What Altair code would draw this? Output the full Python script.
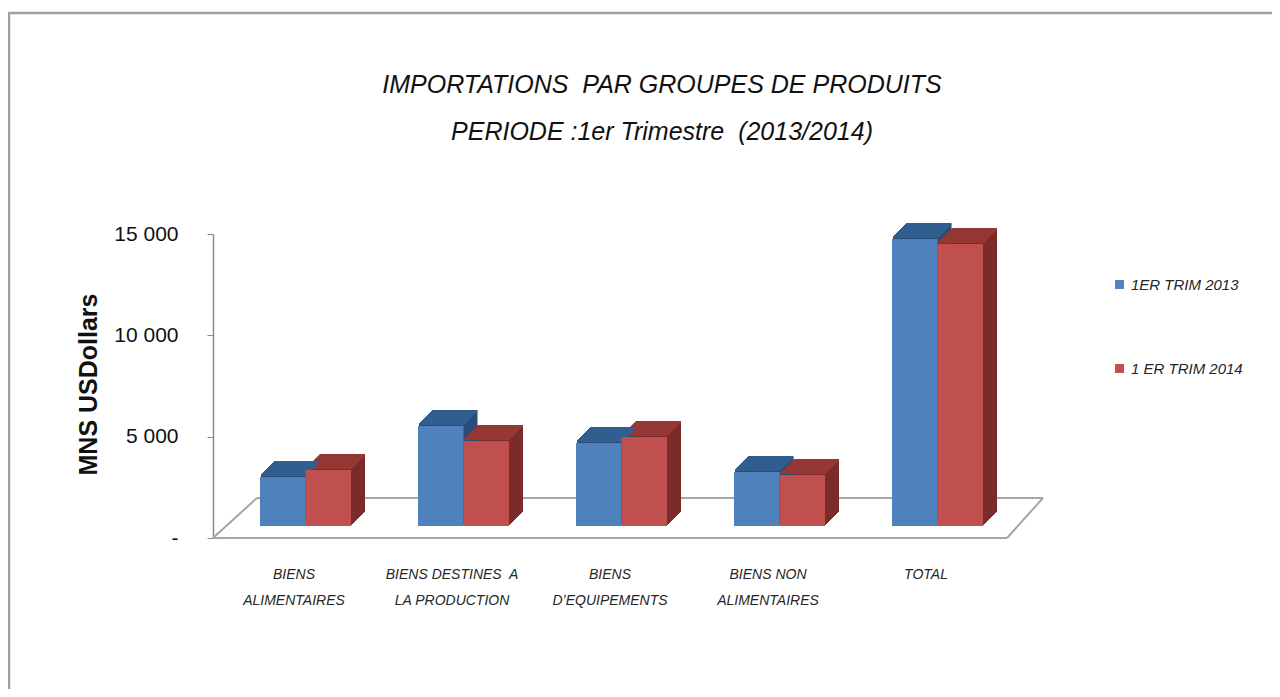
import json
import altair as alt
import pandas as pd

# ---------------- data ----------------
categories = ["BIENS ALIMENTAIRES", "BIENS DESTINES A LA PRODUCTION",
              "BIENS D’EQUIPEMENTS", "BIENS NON ALIMENTAIRES", "TOTAL"]
label_lines = [["BIENS", "ALIMENTAIRES"], ["BIENS DESTINES\u00a0 A", "LA PRODUCTION"],
               ["BIENS", "D’EQUIPEMENTS"], ["BIENS NON", "ALIMENTAIRES"], ["TOTAL"]]
series = ["1ER TRIM 2013", "1 ER TRIM 2014"]
values_2013 = [2420, 4930, 4100, 2660, 14160]
values_2014 = [2760, 4190, 4390, 2520, 13910]
y_ticks = [0, 5000, 10000, 15000]
title_lines = ["IMPORTATIONS\u00a0 PAR GROUPES DE PRODUITS", "PERIODE :1er Trimestre\u00a0 (2013/2014)"]

# ---------------- styling ----------------
FONT_N = "'Liberation Sans Narrow', 'Liberation Sans', Arial, sans-serif"
FONT_B = "'Liberation Sans', Arial, sans-serif"
front_c = ["#4F81BD", "#C0504D"]
top_c = ["#2F5E8F", "#953735"]
side_c = ["#294D78", "#7B2C2A"]
BAR_W = 0.288
DEPTH = 14
BASE = 12

rows = []
for i, c in enumerate(categories):
    for s, vals in zip(series, [values_2013, values_2014]):
        rows.append({"cat": c, "idx": i, "series": s, "value": vals[i]})
df = pd.DataFrame(rows)
df["x0"] = df["idx"] + df["series"].map({series[0]: -BAR_W, series[1]: 0.0})
df["x1"] = df["x0"] + BAR_W

DOM = [-0.5095, 4.5158]
W, H = 794, 304

xaxis = alt.Axis(values=[0, 1, 2, 3, 4], labelExpr=f"{json.dumps(label_lines, ensure_ascii=False)}[datum.value]",
                 domain=False, ticks=False, grid=False, labelPadding=29, labelFont=FONT_N,
                 labelFontSize=14, labelFontStyle="italic", labelColor="#262626",
                 labelLineHeight=26, labelAngle=0, title=None, labelFlush=False, labelOverlap=False)
yaxis = alt.Axis(values=y_ticks,
                 labelExpr="datum.value == 0 ? '-\u00a0\u00a0\u00a0\u00a0' : replace(format(datum.value, ','), ',', '\u00a0')",
                 grid=False, domainColor="#8C8C8C", domainWidth=1.5, tickColor="#8C8C8C", tickSize=6,
                 labelFont=FONT_N, labelFontSize=21, labelColor="#111111", labelPadding=29,
                 title="MNS USDollars", titleFont=FONT_B, titleFontSize=25, titleFontWeight="bold",
                 titleColor="#111111", titleAngle=270, titleX=-125, titleY=150,
                 titleAlign="center", titleBaseline="middle")

xs = alt.Scale(domain=DOM, nice=False, zero=False)
ys = alt.Scale(domain=[0, 15000], nice=False, zero=True)


def X(field):
    return alt.X(field, type="quantitative", scale=xs, axis=xaxis)


def Y(field):
    return alt.Y(field, type="quantitative", scale=ys, axis=yaxis)


def cond(colors):
    return alt.condition(alt.datum.series == series[0], alt.value(colors[0]), alt.value(colors[1]))


layers = []

# floor
floor = pd.DataFrame({"xa": [DOM[0]], "xb": [DOM[1]], "yz": [0]})
fb = alt.Chart(floor)
fl_style = dict(color="#A6A6A6", strokeWidth=2)
layers.append(fb.mark_rule(**fl_style).encode(x=X("xa"), x2="xb", y=Y("yz"), y2="yz"))
layers.append(fb.mark_rule(xOffset=44, x2Offset=36, yOffset=-40, y2Offset=-40, **fl_style)
              .encode(x=X("xa"), x2="xb", y=Y("yz"), y2="yz"))
layers.append(fb.mark_rule(x2Offset=44, y2Offset=-40, **fl_style)
              .encode(x=X("xa"), x2="xa", y=Y("yz"), y2="yz"))
layers.append(fb.mark_rule(x2Offset=36, y2Offset=-40, **fl_style)
              .encode(x=X("xb"), x2="xb", y=Y("yz"), y2="yz"))

base = alt.Chart(df)
# side (extrusion)
for k in range(1, DEPTH + 1):
    o = BASE + k
    layers.append(base.mark_rect(xOffset=o, x2Offset=o, yOffset=-o - 1, y2Offset=-o)
                  .encode(x=X("x0"), x2="x1", y=Y("value"), y2=alt.Y2(datum=0), color=cond(side_c)))
# top faces
for k in range(1, DEPTH + 1):
    o = BASE + k
    layers.append(base.mark_rule(strokeWidth=2, xOffset=o, x2Offset=o, yOffset=-o - 1, y2Offset=-o - 1)
                  .encode(x=X("x0"), x2="x1", y=Y("value"), y2="value", color=cond(top_c)))
# front faces
layers.append(base.mark_rect(xOffset=BASE, x2Offset=BASE, yOffset=-BASE, y2Offset=-BASE)
              .encode(x=X("x0"), x2="x1", y=Y("value"), y2=alt.Y2(datum=0),
                      color=alt.Color("series:N", scale=alt.Scale(domain=series, range=front_c),
                                      legend=alt.Legend(title=None, orient="none", legendX=899, legendY=43,
                                                        symbolType="square", symbolSize=80,
                                                        symbolStrokeWidth=0,
                                                        labelFont=FONT_N, labelFontSize=15,
                                                        labelFontStyle="italic", labelColor="#262626",
                                                        rowPadding=68, labelOffset=4))))

# outer frame
one = alt.Chart(pd.DataFrame({"a": [0]}))
layers.append(one.mark_rule(color="#A0A0A0", strokeWidth=2.5)
              .encode(x=alt.value(-204), y=alt.value(-221), y2=alt.value(460)))
layers.append(one.mark_rule(color="#A0A0A0", strokeWidth=2.5)
              .encode(x=alt.value(-205), x2=alt.value(1060), y=alt.value(-221)))

chart = alt.layer(*layers).properties(
    width=W, height=H,
    autosize=alt.AutoSizeParams(type="none"),
    padding={"left": 205, "top": 226, "right": 1264 - 205 - W, "bottom": 681 - 226 - H},
    title=alt.TitleParams(title_lines,
                          anchor="middle", dx=52, offset=-133, font=FONT_N, fontSize=25,
                          fontStyle="italic", fontWeight="normal", color="#111111", lineHeight=47),
    background="white",
).configure_view(stroke=None)

chart.save("out.html", embed_options={"renderer": "svg", "actions": False})
